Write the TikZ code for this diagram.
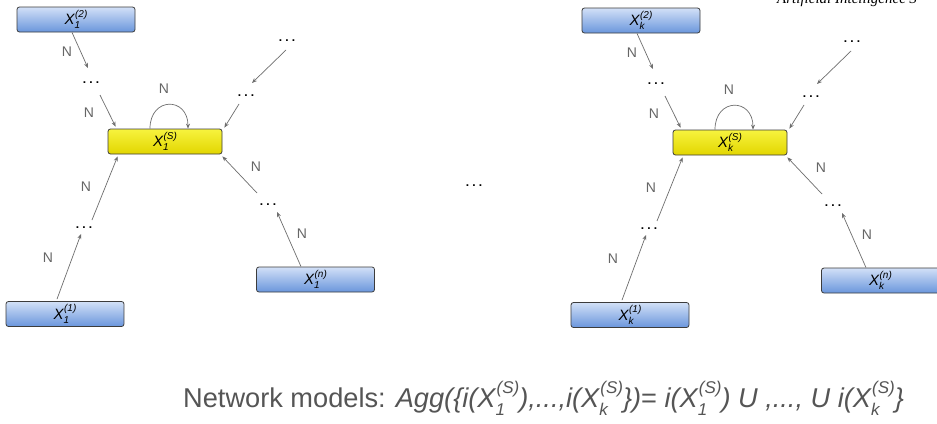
\documentclass[tikz,border=0pt]{standalone}
\usepackage{fontspec}
\setmainfont{Liberation Sans}
\newfontfamily\headfont{Liberation Serif}
\usetikzlibrary{arrows.meta}

\definecolor{linegray}{HTML}{6E6E6E}
\definecolor{labelgray}{HTML}{666666}
\definecolor{boxedge}{HTML}{3C3C3C}
\definecolor{blueTop}{HTML}{D2E0F7}
\definecolor{blueBot}{HTML}{6A96DC}
\definecolor{yelTop}{HTML}{F7F33E}
\definecolor{yelBot}{HTML}{E2D600}
\definecolor{formulagray}{HTML}{555555}

% variable X with a subscript and a bracketed superscript
\newcommand\varx[2]{\textit{X\rlap{\raisebox{-0.55ex}{\fontsize{10}{10}\selectfont #1}}\kern0.5pt\raisebox{0.9ex}{\fontsize{10}{10}\selectfont (#2)}}}
\newcommand\fx[2]{X\rlap{\raisebox{-0.6ex}{\fontsize{17}{17}\selectfont #1}}\kern1pt\raisebox{0.95ex}{\fontsize{17}{17}\selectfont (#2)}}
\newcommand\dotsrow{.\kern3.2pt.\kern3.2pt.}

\tikzset{
  member/.style={rectangle, rounded corners=2.5pt, draw=boxedge, line width=0.8pt,
    top color=blueTop, bottom color=blueBot, minimum width=118pt,
    minimum height=25pt, inner sep=0pt, font=\fontsize{15}{15}\selectfont},
  sink/.style={member, top color=yelTop, bottom color=yelBot, minimum width=114pt},
  gap/.style={inner sep=0pt, font=\bfseries\fontsize{12}{12}\selectfont},
  link/.style={draw=linegray, line width=0.7pt, -{Stealth[length=5pt,width=4pt]}},
  nlabel/.style={text=labelgray, font=\fontsize{14}{14}\selectfont, inner sep=0pt},
}

% one cluster: name prefix, index, horizontal and vertical offset
\newcommand\cluster[4]{%
\begin{scope}[shift={(#3,#4)}, name prefix=#1-]
  \node[member] (b2) at (76,-19.5) {\varx{#2}{2}};
  \node[sink]   (s)  at (165,-141.5) {\varx{#2}{S}};
  \node[member] (b1) at (65,-314) {\varx{#2}{1}};
  \node[member] (bn) at (315.5,-279.5) {\varx{#2}{n}};
  \node[gap] (d2)   at (91,-83)  {\dotsrow};
  \node[gap] (dtr1) at (287,-41) {\dotsrow};
  \node[gap] (dtr2) at (246,-96) {\dotsrow};
  \node[gap] (d1)   at (84,-228) {\dotsrow};
  \node[gap] (dn)   at (268,-205) {\dotsrow};
  % incoming chains
  \draw[link] ([shift={(-4,0)}]b2.south) -- ([shift={(-3,15)}]d2.center);
  \draw[link] ([shift={(9,-12)}]d2.center) -- ([shift={(8,2)}]s.north west);
  \draw[link] ([shift={(-1,-9)}]dtr1.center) -- ([shift={(6,13)}]dtr2.center);
  \draw[link] ([shift={(-7,-8)}]dtr2.center) -- ([shift={(2,1)}]s.north east);
  \draw[link] ([shift={(-8,2)}]b1.north) -- ([shift={(-3,-6)}]d1.center);
  \draw[link] ([shift={(8,8)}]d1.center) -- ([shift={(10,-2)}]s.south west);
  \draw[link] ([shift={(-14.5,0)}]bn.north) -- ([shift={(9,-7)}]dn.center);
  \draw[link] ([shift={(-11,12)}]dn.center) -- ([shift={(0,-2)}]s.south east);
  % self loop
  \draw[link] ([xshift=-15pt]s.north) .. controls +(0,32) and +(0,32) .. ([xshift=23pt]s.north);
  % edge labels
  \node[nlabel] (n1) at (67,-52) {N};
  \node[nlabel] (n2) at (89,-113) {N};
  \node[nlabel] (n3) at (164,-89) {N};
  \node[nlabel] (n4) at (48,-258) {N};
  \node[nlabel] (n5) at (86,-187) {N};
  \node[nlabel] (n6) at (302,-234) {N};
  \node[nlabel] (n7) at (256,-167) {N};
\end{scope}}

\begin{document}
\begin{tikzpicture}[x=1pt,y=1pt]
  \useasboundingbox (0,0) rectangle (937,-423);
  \fill[white] (0,0) rectangle (937,-423);
  \node[anchor=base west, inner sep=0pt, font=\headfont\itshape\fontsize{15}{15}\selectfont] (hdr) at (777,-3.5) {Artificial Intelligence 3};
  \cluster{L}{1}{0}{0}
  \cluster{R}{k}{565}{-1}
  \node[gap] (mid) at (474,-186) {\dotsrow};
  \node[anchor=base west, inner sep=0pt, text=formulagray, font=\fontsize{27.2}{27.2}\selectfont] (formula) at (183,-407)
    {Network models: \textit{Agg(\{i(\fx{1}{S}),...,i(\fx{k}{S}\})}= \textit{i(\fx{1}{S}) U ,..., U i(\fx{k}{S}\}}};
\end{tikzpicture}
\end{document}
